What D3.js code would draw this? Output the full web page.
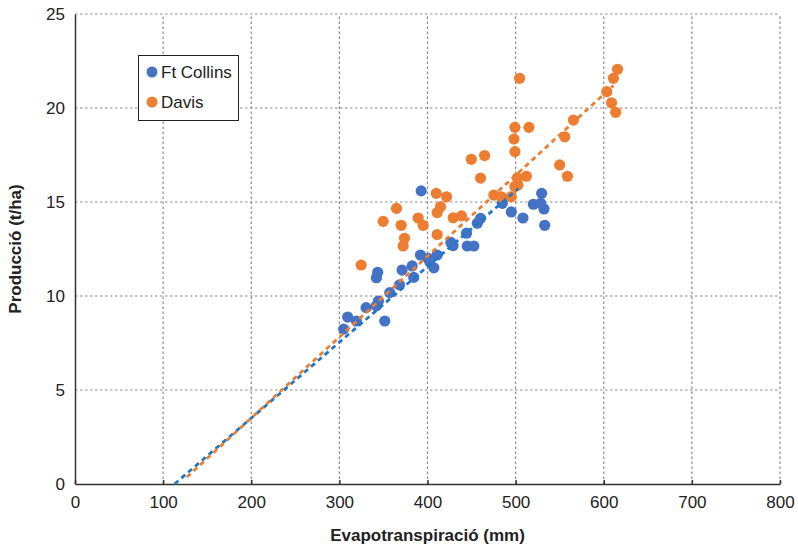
<!DOCTYPE html>
<html><head><meta charset="utf-8">
<script src="https://cdn.jsdelivr.net/npm/d3@7"></script>
<style>body{margin:0;background:#fff}svg{display:block}</style>
</head><body>
<svg id="c" width="798" height="549"></svg>
<script>
const xTicks = [0,100,200,300,400,500,600,700,800];
const yTicks = [0,5,10,15,20,25];
const seriesNames = ["Ft Collins","Davis"];
const ftCollinsX = [304.9,309.4,319.3,330.3,342.0,344.3,351.5,342.0,343.5,357.2,368.2,371.2,384.4,382.6,392.0,400.8,411.0,402.6,407.2,426.5,429.0,444.3,445.1,452.6,456.5,460.2,392.8,484.9,495.1,508.3,520.1,528.4,529.5,532.2,533.0];
const ftCollinsY = [8.24,8.88,8.67,9.38,9.48,9.73,8.67,10.97,11.26,10.18,10.59,11.38,10.99,11.60,12.18,12.00,12.18,11.82,11.50,12.85,12.68,13.34,12.66,12.66,13.87,14.13,15.59,14.93,14.47,14.15,14.88,14.93,15.46,14.63,13.76];
const davisX = [324.7,349.7,364.8,370.1,373.9,372.4,389.4,395.1,409.9,421.6,414.8,411.0,411.0,429.2,438.6,449.7,464.8,460.2,475.3,483.8,495.1,499.2,502.6,501.9,512.2,499.2,498.1,499.2,515.1,504.5,550.0,558.8,555.7,565.6,603.4,608.8,613.6,611.0,615.6];
const davisY = [11.65,13.97,14.66,13.76,13.07,12.66,14.15,13.76,15.46,15.28,14.75,14.44,13.27,14.16,14.26,17.27,17.47,16.27,15.37,15.28,15.28,15.82,15.90,16.28,16.37,17.68,18.35,18.97,18.97,21.58,16.97,16.37,18.47,19.36,20.87,20.28,19.77,21.58,22.06];
// regression lines: [x-start, x-end], [y-start, y-end]
const ftCollinsFitX = [113, 503];
const ftCollinsFitY = [0, 15.72];
const davisFitX = [127, 611];
const davisFitY = [0.37, 21.2];

const colors = ["#4472C4","#ED7D31"];
const lineColors = ["#1F77C8","#ED7D31"];
const font = "'Liberation Sans Narrow','Liberation Sans',Arial,sans-serif";

const svg = d3.select("#c");
const m = {l:75, r:18, t:14, b:65};
const W = 798, H = 549;
const x = d3.scaleLinear().domain([0,800]).range([m.l, W-m.r]);
const y = d3.scaleLinear().domain([0,25]).range([H-m.b, m.t]);

// grid
const g = svg.append("g");
g.selectAll(".vg").data(xTicks.filter(d=>d>0)).enter().append("line")
  .attr("x1",d=>x(d)).attr("x2",d=>x(d)).attr("y1",y(0)).attr("y2",y(25))
  .attr("stroke","#8a8a8a").attr("stroke-width",1.2).attr("stroke-dasharray","2.5,2.5");
g.selectAll(".hg").data(yTicks.filter(d=>d>0)).enter().append("line")
  .attr("y1",d=>y(d)).attr("y2",d=>y(d)).attr("x1",x(0)).attr("x2",x(800))
  .attr("stroke","#8a8a8a").attr("stroke-width",1.2).attr("stroke-dasharray","2.5,2.5");

// axes
const xa = svg.append("g").attr("transform",`translate(0,${y(0)})`)
  .call(d3.axisBottom(x).tickValues(xTicks).tickSizeInner(-4).tickSizeOuter(0).tickPadding(12));
const ya = svg.append("g").attr("transform",`translate(${x(0)},0)`)
  .call(d3.axisLeft(y).tickValues(yTicks).tickSize(0).tickPadding(10));
[xa,ya].forEach(a=>{
  a.select(".domain").attr("stroke","#333").attr("stroke-width",1.5);
  a.selectAll(".tick line").attr("stroke","#333").attr("stroke-width",1.5);
  a.selectAll("text").attr("font-family",font).attr("font-size",17).attr("fill","#222");
});
ya.selectAll("text").attr("dy","0.35em");

// regression lines
function fit(xs, ys, c){
  svg.append("line").attr("x1",x(xs[0])).attr("x2",x(xs[1])).attr("y1",y(ys[0])).attr("y2",y(ys[1]))
    .attr("stroke",c).attr("stroke-width",2.8).attr("stroke-dasharray","5,4");
}

// points
function pts(xs, ys, c){
  svg.append("g").selectAll("circle").data(xs.map((v,i)=>[v,ys[i]])).enter().append("circle")
    .attr("cx",d=>x(d[0])).attr("cy",d=>y(d[1])).attr("r",5.6).attr("fill",c);
}
pts(ftCollinsX, ftCollinsY, colors[0]);
pts(davisX, davisY, colors[1]);
fit(ftCollinsFitX, ftCollinsFitY, lineColors[0]);
fit(davisFitX, davisFitY, lineColors[1]);

// legend
const lg = svg.append("g");
lg.append("rect").attr("x",138.5).attr("y",55.5).attr("width",100).attr("height",65)
  .attr("fill","#fff").attr("stroke","#222").attr("stroke-width",1);
seriesNames.forEach((n,i)=>{
  lg.append("circle").attr("cx",152).attr("cy",72+i*30).attr("r",5.5).attr("fill",colors[i]);
  lg.append("text").attr("x",161).attr("y",72+i*30).attr("dy","0.35em")
    .attr("font-family",font).attr("font-size",17).attr("fill","#222").text(n);
});

// titles
svg.append("text").attr("x",x(400)).attr("y",541).attr("text-anchor","middle")
  .attr("font-family",font).attr("font-weight","bold").attr("font-size",17).attr("fill","#222")
  .text("Evapotranspiració (mm)");
svg.append("text").attr("transform",`translate(21,${y(12.5)}) rotate(-90)`).attr("text-anchor","middle")
  .attr("font-family",font).attr("font-weight","bold").attr("font-size",17).attr("fill","#222")
  .text("Producció (t/ha)");
</script>
</body></html>
